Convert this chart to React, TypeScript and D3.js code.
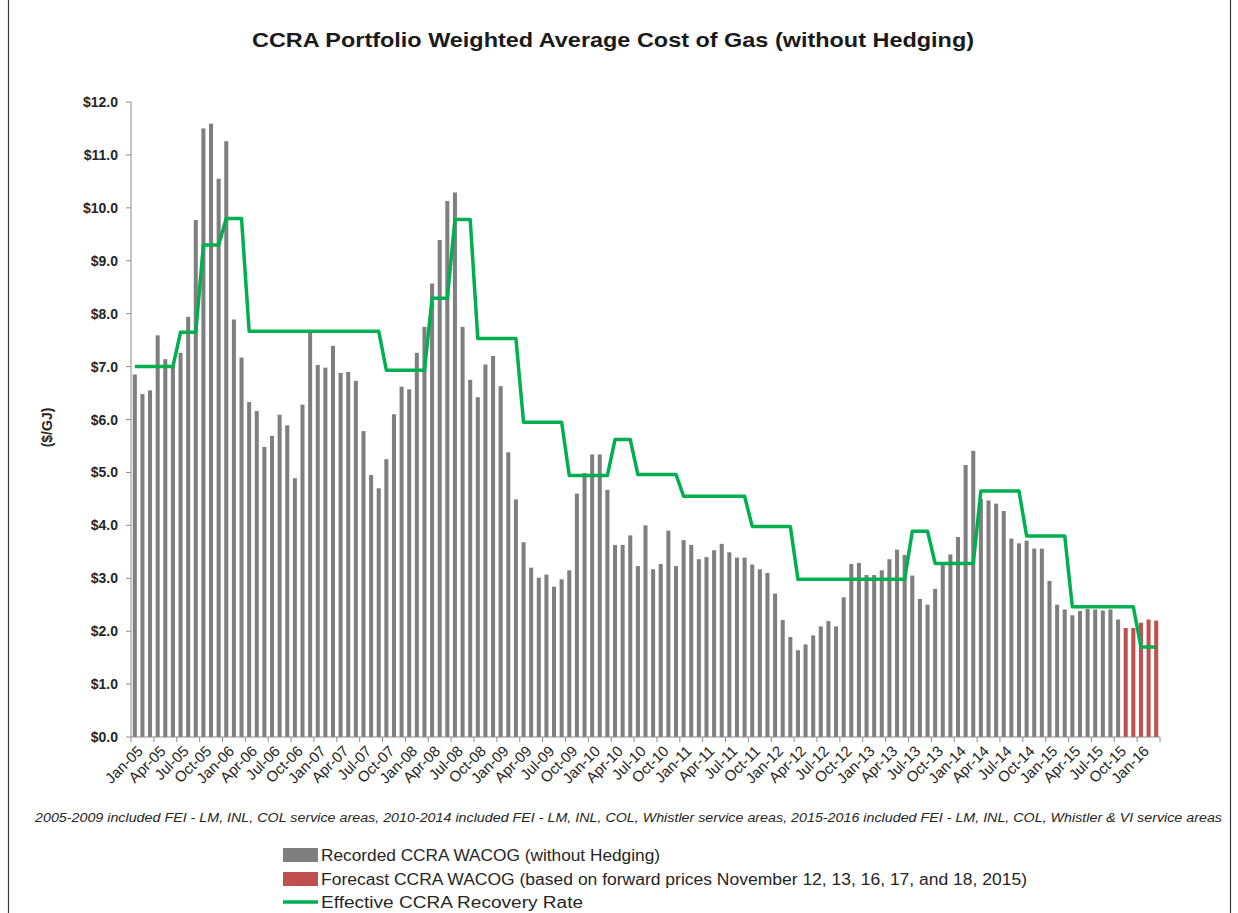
import React, { useRef, useEffect } from "react";
import * as d3 from "d3";

// categories
const years = ["05", "06", "07", "08", "09", "10", "11", "12", "13", "14", "15", "16"];
const monthNames = ["Jan", "Feb", "Mar", "Apr", "May", "Jun", "Jul", "Aug", "Sep", "Oct", "Nov", "Dec"];

// Recorded CCRA WACOG, Jan-05 .. Oct-15 ($/GJ)
const recorded = [
  6.85, 6.48, 6.55, 7.59, 7.14, 7.01, 7.26, 7.94, 9.77, 11.5, 11.59, 10.55,
  11.26, 7.89, 7.17, 6.33, 6.16, 5.48, 5.69, 6.09, 5.89, 4.89, 6.28, 7.64,
  7.03, 6.98, 7.39, 6.88, 6.9, 6.73, 5.78, 4.95, 4.7, 5.25, 6.1, 6.62,
  6.57, 7.26, 7.75, 8.57, 9.39, 10.13, 10.29, 7.75, 6.75, 6.42, 7.04, 7.2,
  6.63, 5.38, 4.49, 3.68, 3.2, 3.01, 3.07, 2.84, 2.98, 3.15, 4.6, 4.99,
  5.34, 5.34, 4.67, 3.63, 3.63, 3.81, 3.23, 4.0, 3.17, 3.27, 3.9, 3.23,
  3.72, 3.63, 3.36, 3.4, 3.53, 3.65, 3.49, 3.39, 3.39, 3.26, 3.17, 3.1,
  2.71, 2.21, 1.89, 1.64, 1.75, 1.92, 2.09, 2.19, 2.09, 2.64, 3.27, 3.29,
  3.06, 3.06, 3.15, 3.36, 3.54, 3.44, 3.05, 2.61, 2.5, 2.8, 3.28, 3.45,
  3.78, 5.14, 5.41, 4.5, 4.47, 4.41, 4.27, 3.75, 3.66, 3.71, 3.56, 3.56,
  2.95, 2.5, 2.41, 2.3, 2.38, 2.42, 2.41, 2.39, 2.41, 2.22,
];

// Forecast CCRA WACOG, Nov-15 .. Mar-16
const forecast = [2.06, 2.06, 2.16, 2.22, 2.2];

// Effective CCRA Recovery Rate, Jan-05 .. Mar-16
const recoveryRate = [
  7.0, 7.0, 7.0, 7.0, 7.0, 7.0, 7.65, 7.65, 7.65, 9.3, 9.3, 9.3,
  9.8, 9.8, 9.8, 7.67, 7.67, 7.67, 7.67, 7.67, 7.67, 7.67, 7.67, 7.67,
  7.67, 7.67, 7.67, 7.67, 7.67, 7.67, 7.67, 7.67, 7.67, 6.93, 6.93, 6.93,
  6.93, 6.93, 6.93, 8.29, 8.29, 8.29, 9.78, 9.78, 9.78, 7.53, 7.53, 7.53,
  7.53, 7.53, 7.53, 5.95, 5.95, 5.95, 5.95, 5.95, 5.95, 4.94, 4.94, 4.94,
  4.94, 4.94, 4.94, 5.62, 5.62, 5.62, 4.96, 4.96, 4.96, 4.96, 4.96, 4.96,
  4.55, 4.55, 4.55, 4.55, 4.55, 4.55, 4.55, 4.55, 4.55, 3.98, 3.98, 3.98,
  3.98, 3.98, 3.98, 2.98, 2.98, 2.98, 2.98, 2.98, 2.98, 2.98, 2.98, 2.98,
  2.98, 2.98, 2.98, 2.98, 2.98, 2.98, 3.89, 3.89, 3.89, 3.28, 3.28, 3.28,
  3.28, 3.28, 3.28, 4.65, 4.65, 4.65, 4.65, 4.65, 4.65, 3.8, 3.8, 3.8,
  3.8, 3.8, 3.8, 2.46, 2.46, 2.46, 2.46, 2.46, 2.46, 2.46, 2.46, 2.46,
  1.7, 1.7, 1.7,
];

const yTicks = [0, 1, 2, 3, 4, 5, 6, 7, 8, 9, 10, 11, 12];

const title = "CCRA Portfolio Weighted Average Cost of Gas (without Hedging)";
const yTitle = "($/GJ)";
const footnote =
  "2005-2009 included FEI - LM, INL, COL service areas, 2010-2014 included  FEI - LM, INL, COL, Whistler service areas, 2015-2016 included FEI - LM, INL, COL, Whistler & VI service areas";
const legendLabels = [
  "Recorded CCRA WACOG (without Hedging)",
  "Forecast CCRA WACOG (based on forward prices November 12, 13, 16, 17, and 18, 2015)",
  "Effective CCRA Recovery Rate",
];

const GRAY = "#7f7f7f";
const RED = "#c0504d";
const GREEN = "#00b050";
const FONT = "'Liberation Sans Narrow', 'Liberation Sans', Arial, sans-serif";

function GasCostChart() {
  const svgRef = useRef(null);

  useEffect(() => {
    const svg = d3.select(svgRef.current);
    svg.selectAll("*").remove();

    const W = 1238;
    const H = 913;
    const margin = { top: 102, right: 78, bottom: 176, left: 131 };
    const plotBottom = H - margin.bottom;
    const plotRight = W - margin.right;

    const months = years
      .flatMap((yr) => monthNames.map((m) => `${m}-${yr}`))
      .slice(0, recorded.length + forecast.length);

    const bars = months.map((m, i) => ({
      month: m,
      value: i < recorded.length ? recorded[i] : forecast[i - recorded.length],
      forecast: i >= recorded.length,
    }));

    const x = d3
      .scaleBand()
      .domain(months)
      .range([margin.left, plotRight])
      .paddingInner(0.47)
      .paddingOuter(0.235);

    const y = d3.scaleLinear().domain([0, 12]).range([plotBottom, margin.top]);

    const cx = (m) => x(m) + x.bandwidth() / 2;

    // frame
    svg
      .append("rect")
      .attr("x", 8.5)
      .attr("y", -4)
      .attr("width", 1222)
      .attr("height", H + 10)
      .attr("fill", "white")
      .attr("stroke", "#3a3a3a")
      .attr("stroke-width", 1.2);

    // title
    svg
      .append("text")
      .attr("x", 613)
      .attr("y", 47)
      .attr("text-anchor", "middle")
      .attr("font-family", FONT)
      .attr("font-weight", "bold")
      .attr("font-size", 21)
      .attr("textLength", 722)
      .attr("lengthAdjust", "spacingAndGlyphs")
      .attr("fill", "#1a1a1a")
      .text(title);

    // bars
    svg
      .append("g")
      .selectAll("rect")
      .data(bars)
      .join("rect")
      .attr("x", (d) => x(d.month))
      .attr("y", (d) => y(d.value))
      .attr("width", x.bandwidth())
      .attr("height", (d) => plotBottom - y(d.value))
      .attr("fill", (d) => (d.forecast ? RED : GRAY));

    // recovery rate line
    const line = d3
      .line()
      .x((d, i) => cx(months[i]))
      .y((d) => y(d));

    svg
      .append("path")
      .datum(recoveryRate)
      .attr("d", line)
      .attr("fill", "none")
      .attr("stroke", GREEN)
      .attr("stroke-width", 3.5)
      .attr("stroke-linejoin", "round");

    // y axis
    const yAxis = svg.append("g").attr("stroke", "#8c8c8c");
    yAxis
      .append("line")
      .attr("x1", margin.left)
      .attr("x2", margin.left)
      .attr("y1", margin.top)
      .attr("y2", plotBottom);
    yAxis
      .selectAll(".tick")
      .data(yTicks)
      .join("line")
      .attr("x1", margin.left - 5)
      .attr("x2", margin.left)
      .attr("y1", (d) => y(d))
      .attr("y2", (d) => y(d));

    svg
      .append("g")
      .selectAll("text")
      .data(yTicks)
      .join("text")
      .attr("x", margin.left - 13)
      .attr("y", (d) => y(d) + 5)
      .attr("text-anchor", "end")
      .attr("font-family", FONT)
      .attr("font-weight", "bold")
      .attr("font-size", 14)
      .attr("fill", "#262626")
      .text((d) => "$" + d3.format(".1f")(d));

    svg
      .append("text")
      .attr("transform", `translate(52,${(margin.top + plotBottom) / 2 + 8}) rotate(-90)`)
      .attr("text-anchor", "middle")
      .attr("font-family", FONT)
      .attr("font-weight", "bold")
      .attr("font-size", 14)
      .attr("fill", "#262626")
      .text(yTitle);

    // x axis
    const step = x.step();
    const gap = step - x.bandwidth();
    const tickIdx = months.map((m, i) => i).filter((i) => i % 3 === 0);
    const xAxis = svg.append("g").attr("stroke", "#8c8c8c");
    xAxis
      .append("line")
      .attr("x1", margin.left)
      .attr("x2", plotRight)
      .attr("y1", plotBottom)
      .attr("y2", plotBottom);
    xAxis
      .selectAll(".tick")
      .data([...tickIdx.map((i) => x(months[i]) - gap / 2), plotRight])
      .join("line")
      .attr("x1", (d) => d)
      .attr("x2", (d) => d)
      .attr("y1", plotBottom)
      .attr("y2", plotBottom + 5);

    svg
      .append("g")
      .selectAll("text")
      .data(tickIdx.map((i) => months[i]))
      .join("text")
      .attr("transform", (d) => `translate(${cx(d) + 9},${plotBottom + 15}) rotate(-45)`)
      .attr("text-anchor", "end")
      .attr("font-family", FONT)
      .attr("font-size", 15)
      .attr("fill", "#262626")
      .text((d) => d);

    // footnote
    svg
      .append("text")
      .attr("x", 35)
      .attr("y", 822)
      .attr("font-family", FONT)
      .attr("font-style", "italic")
      .attr("font-size", 12)
      .attr("textLength", 1187)
      .attr("lengthAdjust", "spacingAndGlyphs")
      .attr("fill", "#262626")
      .text(footnote);

    // legend
    const legendY = [855, 879, 902];
    const legendW = [339, 706, 262];
    const legend = svg.append("g");
    legend
      .append("rect")
      .attr("x", 283)
      .attr("y", legendY[0] - 7)
      .attr("width", 35)
      .attr("height", 14)
      .attr("fill", GRAY);
    legend
      .append("rect")
      .attr("x", 283)
      .attr("y", legendY[1] - 7)
      .attr("width", 35)
      .attr("height", 14)
      .attr("fill", RED);
    legend
      .append("line")
      .attr("x1", 283)
      .attr("x2", 318)
      .attr("y1", legendY[2])
      .attr("y2", legendY[2])
      .attr("stroke", GREEN)
      .attr("stroke-width", 3.5);
    legend
      .selectAll("text")
      .data(legendLabels)
      .join("text")
      .attr("x", 321)
      .attr("y", (d, i) => legendY[i] + 6)
      .attr("font-family", FONT)
      .attr("font-size", 16)
      .attr("textLength", (d, i) => legendW[i])
      .attr("lengthAdjust", "spacingAndGlyphs")
      .attr("fill", "#262626")
      .text((d) => d);
  }, []);

  return (
    <svg
      ref={svgRef}
      width={1238}
      height={913}
      style={{ position: "absolute", left: 0, top: 0, display: "block" }}
    />
  );
}

export default function App() {
  return <GasCostChart />;
}
